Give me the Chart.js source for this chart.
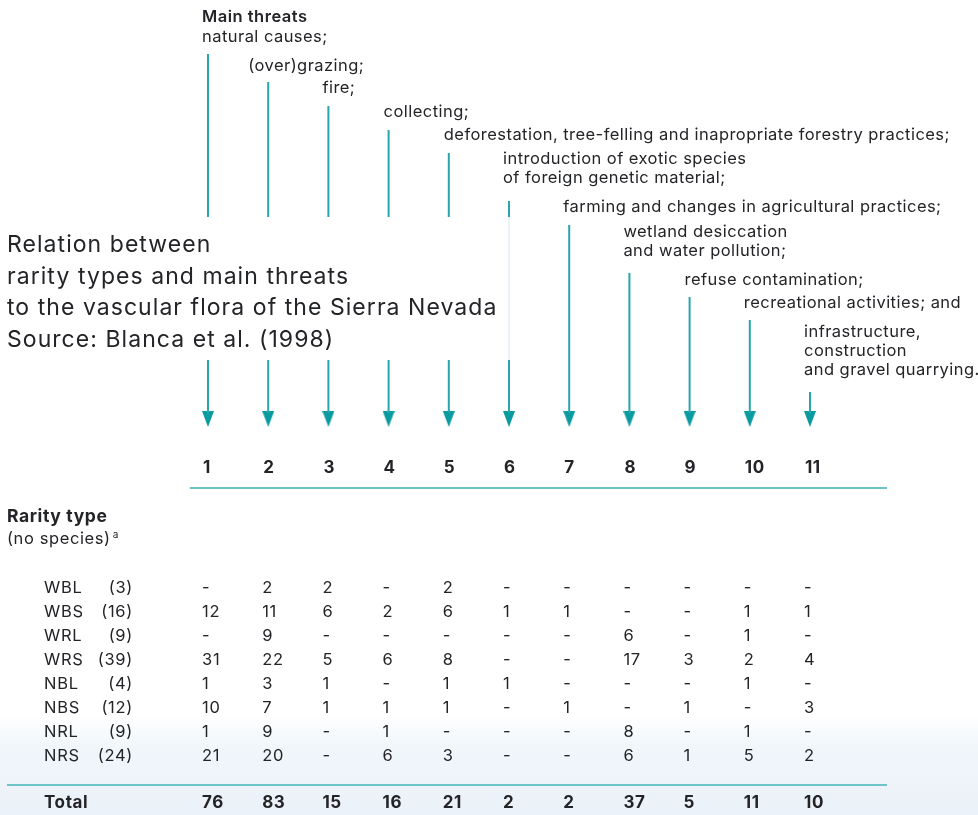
<!DOCTYPE html>
<html>
<head>
<meta charset="utf-8">
<script src="https://cdn.jsdelivr.net/npm/chart.js@4/dist/chart.umd.min.js"></script>
<style>
  html, body { margin: 0; padding: 0; background: #fff; }
  #wrap { width: 978px; height: 815px; }
</style>
</head>
<body>
<div id="wrap"><canvas id="chart" width="978" height="815"></canvas></div>
<script>
'use strict';

// ---- data ----
var threatNos = [1, 2, 3, 4, 5, 6, 7, 8, 9, 10, 11];
var threatLabels = [
  ['natural causes;'],
  ['(over)grazing;'],
  ['fire;'],
  ['collecting;'],
  ['deforestation, tree-felling and inapropriate forestry practices;'],
  ['introduction of exotic species', 'of foreign genetic material;'],
  ['farming and changes in agricultural practices;'],
  ['wetland desiccation', 'and water pollution;'],
  ['refuse contamination;'],
  ['recreational activities; and'],
  ['infrastructure,', 'construction', 'and gravel quarrying.']
];
var rarityTypes = ['WBL', 'WBS', 'WRL', 'WRS', 'NBL', 'NBS', 'NRL', 'NRS'];
var speciesCounts = [3, 16, 9, 39, 4, 12, 9, 24];
// species per threat (0 shown as "-")
var WBL = [0, 2, 2, 0, 2, 0, 0, 0, 0, 0, 0];
var WBS = [12, 11, 6, 2, 6, 1, 1, 0, 0, 1, 1];
var WRL = [0, 9, 0, 0, 0, 0, 0, 6, 0, 1, 0];
var WRS = [31, 22, 5, 6, 8, 0, 0, 17, 3, 2, 4];
var NBL = [1, 3, 1, 0, 1, 1, 0, 0, 0, 1, 0];
var NBS = [10, 7, 1, 1, 1, 0, 1, 0, 1, 0, 3];
var NRL = [1, 9, 0, 1, 0, 0, 0, 8, 0, 1, 0];
var NRS = [21, 20, 0, 6, 3, 0, 0, 6, 1, 5, 2];
var rows = [WBL, WBS, WRL, WRS, NBL, NBS, NRL, NRS];
var totals = [76, 83, 15, 16, 21, 2, 2, 37, 5, 11, 10];

// ---- layout (pixels, y downwards) ----
var labelY = [37, 66, 88, 112, 135, 159, 207, 232, 280, 303, 332];
var labelShift = [-6, -20, -6, -5, -5, -6, -6, -6, -5, -6, -6];
var arrowTop = [54, 82, 106, 130, 153, 201, 225, 273, 297, 320, 392];
var gapTop = 217, gapBottom = 360, headY = 419;
var tealLine = '#2aa5ad', tealHead = '#0a9ba1', ruleColor = '#6cc3c8';
var ink = '#232427';
var FONT = 'Inter, Roboto, sans-serif';

// x scale: column n sits at 208 + (n-1)*60.2 px
var colStep = 60.2, col1 = 208;
var xMin = 1 - col1 / colStep, xMax = 1 + (978 - col1) / colStep;
function pxToCol(px) { return 1 + (px - col1) / colStep; }

// arrow shafts
var datasets = [];
threatNos.forEach(function (n, i) {
  var segs = [];
  if (i < 6) {
    segs.push([arrowTop[i], gapTop]);
    segs.push([gapBottom, headY - 6]);
  } else {
    segs.push([arrowTop[i], headY - 6]);
  }
  segs.forEach(function (s) {
    datasets.push({
      type: 'line', data: [{ x: n, y: s[0] }, { x: n, y: s[1] }],
      borderColor: tealLine, borderWidth: 2, pointRadius: 0
    });
  });
});
// faint shaft behind the title at column 6
datasets.push({
  type: 'line', data: [{ x: 6, y: gapTop }, { x: 6, y: gapBottom }],
  borderColor: 'rgba(42,165,173,0.12)', borderWidth: 2, pointRadius: 0
});

// arrow heads
var head = document.createElement('canvas');
head.width = 12; head.height = 16;
(function () {
  var c = head.getContext('2d');
  c.fillStyle = tealHead;
  c.beginPath(); c.moveTo(0, 0); c.lineTo(12, 0); c.lineTo(6, 16); c.closePath(); c.fill();
})();
datasets.push({
  type: 'scatter',
  data: threatNos.map(function (n) { return { x: n, y: headY }; }),
  pointStyle: head, pointRadius: 8
});

// table rules
datasets.push({
  type: 'line', data: [{ x: pxToCol(190), y: 488 }, { x: pxToCol(887), y: 488 }],
  borderColor: ruleColor, borderWidth: 2, pointRadius: 0
});
datasets.push({
  type: 'line', data: [{ x: pxToCol(7), y: 785 }, { x: pxToCol(887), y: 785 }],
  borderColor: ruleColor, borderWidth: 2, pointRadius: 0
});

var bgPlugin = {
  id: 'bg',
  beforeDraw: function (chart) {
    var ctx = chart.ctx;
    ctx.save();
    ctx.fillStyle = '#fff';
    ctx.fillRect(0, 0, chart.width, chart.height);
    var g = ctx.createLinearGradient(0, 715, 0, 815);
    g.addColorStop(0, 'rgba(238,244,250,0)');
    g.addColorStop(0.3, 'rgba(238,244,250,0.8)');
    g.addColorStop(1, 'rgba(234,241,248,1)');
    ctx.fillStyle = g;
    ctx.fillRect(0, 715, chart.width, 100);
    ctx.restore();
  }
};

function setFont(ctx, f, spacing) {
  ctx.font = f;
  if ('letterSpacing' in ctx) ctx.letterSpacing = spacing;
}

var textPlugin = {
  id: 'texts',
  afterDatasetsDraw: function (chart) {
    var ctx = chart.ctx, xs = chart.scales.x, ys = chart.scales.y;
    function X(n) { return xs.getPixelForValue(n); }
    function Y(v) { return ys.getPixelForValue(v); }
    ctx.save();
    ctx.fillStyle = ink;
    ctx.textBaseline = 'middle';
    ctx.textAlign = 'left';

    // threat header + labels
    setFont(ctx, '600 16.5px ' + FONT, '0.5px');
    ctx.fillText('Main threats', X(1) - 6, Y(17));
    setFont(ctx, '16.5px ' + FONT, '0.45px');
    threatLabels.forEach(function (lines, i) {
      lines.forEach(function (t, k) {
        ctx.fillText(t, X(threatNos[i]) + labelShift[i], Y(labelY[i] + k * 19));
      });
    });

    // title
    setFont(ctx, '23px ' + FONT, '1.05px');
    ['Relation between', 'rarity types and main threats',
     'to the vascular flora of the Sierra Nevada', 'Source: Blanca et al. (1998)']
      .forEach(function (t, k) { ctx.fillText(t, 7, Y(245 + k * 31.7)); });

    // column numbers
    setFont(ctx, '700 17px ' + FONT, '0.5px');
    threatNos.forEach(function (n) { ctx.fillText(String(n), X(n) - 5, Y(468)); });

    // rarity heading
    setFont(ctx, '700 17.5px ' + FONT, '0.6px');
    ctx.fillText('Rarity type', 7, Y(517));
    setFont(ctx, '16.5px ' + FONT, '0.6px');
    ctx.fillText('(no species)', 7, Y(539));
    var w = ctx.measureText('(no species)').width;
    setFont(ctx, '10px ' + FONT, '0px');
    ctx.fillText('a', 7 + w + 2, Y(535));

    // table body
    setFont(ctx, '16.5px ' + FONT, '0.7px');
    rarityTypes.forEach(function (r, i) {
      var y = Y(588 + i * 24);
      ctx.textAlign = 'left';
      ctx.fillText(r, 44, y);
      ctx.textAlign = 'right';
      ctx.fillText('(' + speciesCounts[i] + ')', 133, y);
      ctx.textAlign = 'left';
      rows[i].forEach(function (v, j) {
        ctx.fillText(v ? String(v) : '-', X(threatNos[j]) - 6, y);
      });
    });

    // totals
    setFont(ctx, '700 17px ' + FONT, '0.6px');
    ctx.fillText('Total', 44, Y(803));
    totals.forEach(function (v, j) { ctx.fillText(String(v), X(threatNos[j]) - 6, Y(803)); });
    ctx.restore();
  }
};

var chart = new Chart(document.getElementById('chart'), {
  type: 'scatter',
  data: { datasets: datasets },
  options: {
    responsive: false,
    animation: false,
    events: [],
    layout: { padding: 0, autoPadding: false },
    plugins: { legend: { display: false }, tooltip: { enabled: false } },
    scales: {
      x: { type: 'linear', min: xMin, max: xMax, display: false },
      y: { type: 'linear', min: 0, max: 815, reverse: true, display: false }
    }
  },
  plugins: [bgPlugin, textPlugin]
});
</script>
</body>
</html>
